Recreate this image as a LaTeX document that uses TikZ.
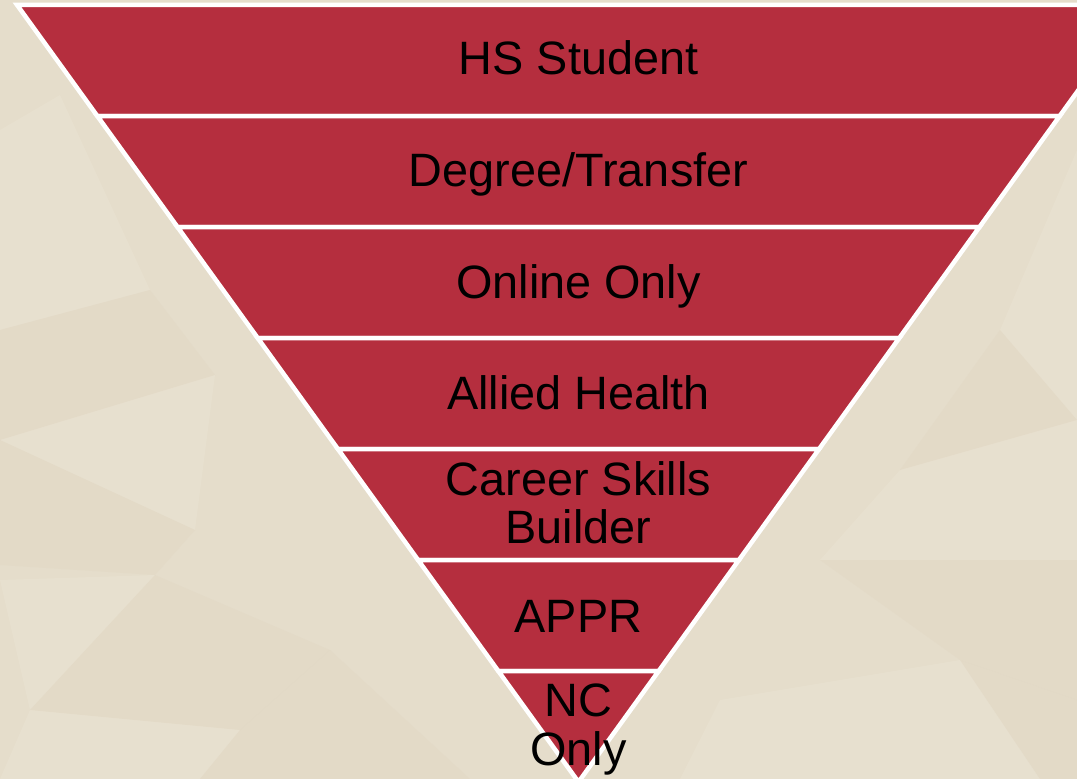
\documentclass[tikz,border=0pt]{standalone}
\usepackage{fontspec}
\setmainfont{Liberation Sans}
\definecolor{bandred}{RGB}{181,46,62}
\definecolor{bgbase}{RGB}{229,221,203}
\definecolor{facetlt}{RGB}{236,229,213}
\definecolor{facetdk}{RGB}{224,213,193}
\begin{document}
\begin{tikzpicture}[x=1bp,y=-1bp,
  band/.style={fill=bandred,draw=white,line width=4.5bp,line join=miter},
  lbl/.style={font=\fontsize{47}{49}\selectfont,text=black,align=center,inner sep=0pt},
  lightfacet/.style={fill=facetlt,fill opacity=0.4},
  darkfacet/.style={fill=facetdk,fill opacity=0.35}]
\useasboundingbox (0,0) rectangle (1077,779);
\begin{scope}
\clip (0,0) rectangle (1077,779);
\fill[bgbase] (0,0) rectangle (1077,779);
% faint facets of the background
\path[lightfacet] (0,130) -- (60,95) -- (150,290) -- (0,330) -- cycle;
\path[darkfacet] (0,330) -- (150,290) -- (215,375) -- (0,440) -- cycle;
\path[lightfacet] (0,440) -- (215,375) -- (195,530) -- cycle;
\path[darkfacet] (0,440) -- (195,530) -- (155,575) -- (0,565) -- cycle;
\path[lightfacet] (0,580) -- (155,575) -- (30,710) -- cycle;
\path[darkfacet] (155,575) -- (330,650) -- (240,730) -- (30,710) -- cycle;
\path[lightfacet] (0,779) -- (30,710) -- (240,730) -- (200,779) -- cycle;
\path[darkfacet] (330,650) -- (470,779) -- (200,779) -- (240,730) -- cycle;
\path[lightfacet] (1077,150) -- (1000,330) -- (1077,420) -- cycle;
\path[darkfacet] (1000,330) -- (900,470) -- (1077,420) -- cycle;
\path[lightfacet] (900,470) -- (1077,420) -- (1077,560) -- (820,560) -- cycle;
\path[darkfacet] (820,560) -- (1077,560) -- (1077,700) -- (960,660) -- cycle;
\path[lightfacet] (720,700) -- (960,660) -- (1040,779) -- (680,779) -- cycle;
\path[darkfacet] (960,660) -- (1077,700) -- (1077,779) -- (1040,779) -- cycle;
% bands of the inverted triangle
\foreach \i in {0,...,6}{
  \pgfmathsetmacro\ya{5+111*\i}
  \pgfmathsetmacro\yb{5+111*(\i+1)}
  \pgfmathsetmacro\la{578.5-0.7225*(782-\ya)}
  \pgfmathsetmacro\ra{578.5+0.7225*(782-\ya)}
  \pgfmathsetmacro\lb{578.5-0.7225*(782-\yb)}
  \pgfmathsetmacro\rb{578.5+0.7225*(782-\yb)}
  \path[band] (\la,\ya) -- (\ra,\ya) -- (\rb,\yb) -- (\lb,\yb) -- cycle;
}
\end{scope}
% labels
\node[lbl,anchor=base] (hs) at (578.5,75) {HS Student};
\node[lbl,anchor=base] (dt) at (578.5,186.5) {Degree/Transfer};
\node[lbl,anchor=base] (oo) at (578.5,298) {Online Only};
\node[lbl,anchor=base] (ah) at (578.5,409.5) {Allied Health};
\node[lbl,anchor=north] (csb) at (578.5,461) {Career Skills\\Builder};
\node[lbl,anchor=base] (appr) at (578.5,632.5) {APPR};
\node[lbl,anchor=north] (nc) at (578.5,683.5) {NC\\Only};
\end{tikzpicture}
\end{document}
